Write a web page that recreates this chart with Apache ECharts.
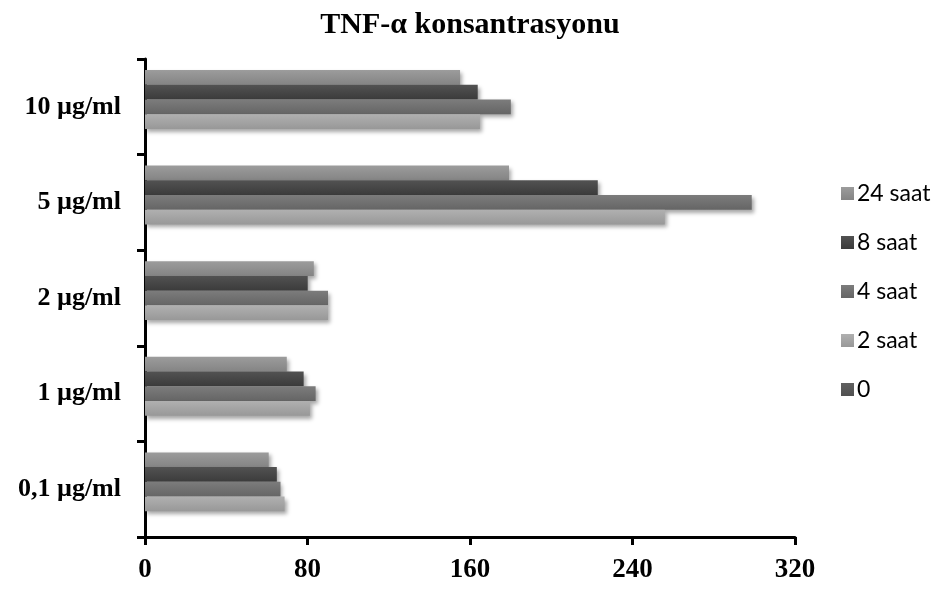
<!DOCTYPE html>
<html>
<head>
<meta charset="utf-8">
<script src="https://cdn.jsdelivr.net/npm/echarts@6/dist/echarts.min.js"></script>
<style>
  html, body { margin: 0; padding: 0; background: #fff; }
  #chart { width: 940px; height: 592px; }
</style>
</head>
<body>
<div id="chart"></div>
<script>
// kategoriler (alttan üste)
const categories = ['0,1 µg/ml', '1 µg/ml', '2 µg/ml', '5 µg/ml', '10 µg/ml']
// seri sırası: üstten alta (legend sırası)
const seriesNames = ['24 saat', '8 saat', '4 saat', '2 saat', '0']
const xTicks = [0, 80, 160, 240, 320]

// TNF-α değerleri
const s24 = [60.9, 69.8, 83.1, 179.2, 155.1]
const s8 = [64.9, 78.1, 80.1, 222.9, 163.8]
const s4 = [66.7, 84.0, 90.1, 298.7, 180.1]
const s2 = [68.7, 81.2, 90.1, 255.9, 164.9]
const s0 = [0, 0, 0, 0, 0]

const values = [s24, s8, s4, s2, s0]
// üst / alt gradyan renkleri
const colors = [
  ['#9c9c9c', '#848484'],
  ['#525252', '#3b3b3b'],
  ['#7c7c7c', '#656565'],
  ['#b0b0b0', '#989898'],
  ['#606060', '#505050'],
]

const serif = '"Liberation Serif", "DejaVu Serif", serif'

const chart = echarts.init(document.getElementById('chart'))

const series = seriesNames.map((name, i) => ({
  name: name,
  type: 'bar',
  data: values[i],
  barGap: '0%',
  barCategoryGap: '23%',
  itemStyle: {
    color: new echarts.graphic.LinearGradient(0, 0, 0, 1, [
      { offset: 0, color: colors[i][0] },
      { offset: 1, color: colors[i][1] },
    ]),
    shadowBlur: 4,
    shadowOffsetX: 2,
    shadowOffsetY: 3,
    shadowColor: 'rgba(0,0,0,0.35)',
  },
}))

const option = {
  animation: false,
  backgroundColor: '#fff',
  title: {
    text: 'TNF-α konsantrasyonu',
    left: 'center',
    top: 5,
    textStyle: { fontFamily: serif, fontWeight: 'bold', fontSize: 30, color: '#000' },
  },
  legend: {
    orient: 'vertical',
    left: 836,
    top: 177,
    itemWidth: 13,
    itemHeight: 13,
    itemGap: 26,
    icon: 'rect',
    data: seriesNames,
    textStyle: { fontFamily: 'Lato, "Open Sans", sans-serif', fontSize: 23, color: '#000', padding: [0, 0, 0, -2] },
  },
  grid: { left: 145, right: 145, top: 59, bottom: 55, containLabel: false },
  xAxis: {
    type: 'value',
    min: xTicks[0],
    max: xTicks[xTicks.length - 1],
    interval: 80,
    splitLine: { show: false },
    axisLine: { show: true, lineStyle: { color: '#000', width: 3 } },
    axisTick: { show: true, length: 8, lineStyle: { color: '#000', width: 3 } },
    axisLabel: { margin: 20, fontFamily: serif, fontWeight: 'bold', fontSize: 27, color: '#000' },
  },
  yAxis: {
    type: 'category',
    data: categories,
    axisLine: { show: true, lineStyle: { color: '#000', width: 3 } },
    axisTick: { show: true, length: 8, lineStyle: { color: '#000', width: 3 } },
    axisLabel: { margin: 24, fontFamily: serif, fontWeight: 'bold', fontSize: 26, color: '#000' },
  },
  series: series,
}

chart.setOption(option)
</script>
</body>
</html>
